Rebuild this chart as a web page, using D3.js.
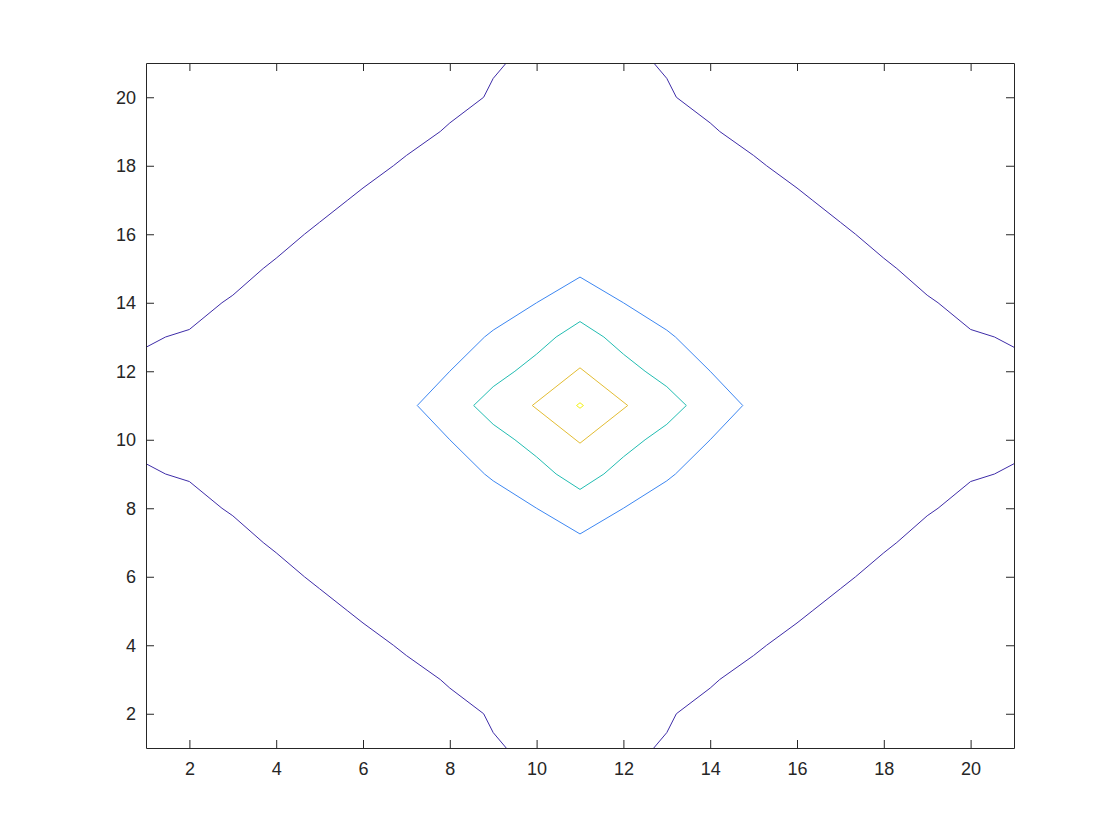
<!DOCTYPE html>
<html>
<head>
<meta charset="utf-8">
<script src="https://cdn.jsdelivr.net/npm/d3@7"></script>
<style>
  body { margin: 0; background: #fff; }
  svg { display: block; }
</style>
</head>
<body>
<svg id="chart" width="1120" height="840"></svg>
<script>
// tick values
var xTicks = [2, 4, 6, 8, 10, 12, 14, 16, 18, 20]
var yTicks = [2, 4, 6, 8, 10, 12, 14, 16, 18, 20]

// contour lines, [x, y] pairs
var level1UpperLeft = [[1,12.7],[1.45,13],[2,13.22],[2.75,14],[3,14.22],[3.7,15],[4,15.3],[4.65,16],[5,16.35],[5.65,17],[6,17.35],[6.7,18],[7,18.3],[7.78,19],[8,19.25],[8.78,20],[9,20.55],[9.3,21]]
var level1UpperRight = [[21,12.7],[20.55,13],[20,13.22],[19.25,14],[19,14.22],[18.3,15],[18,15.3],[17.35,16],[17,16.35],[16.35,17],[16,17.35],[15.3,18],[15,18.3],[14.22,19],[14,19.25],[13.22,20],[13,20.55],[12.7,21]]
var level1LowerLeft = [[1,9.3],[1.45,9],[2,8.78],[2.75,8],[3,7.78],[3.7,7],[4,6.7],[4.65,6],[5,5.65],[5.65,5],[6,4.65],[6.7,4],[7,3.7],[7.78,3],[8,2.75],[8.78,2],[9,1.45],[9.3,1]]
var level1LowerRight = [[21,9.3],[20.55,9],[20,8.78],[19.25,8],[19,7.78],[18.3,7],[18,6.7],[17.35,6],[17,5.65],[16.35,5],[16,4.65],[15.3,4],[15,3.7],[14.22,3],[14,2.75],[13.22,2],[13,1.45],[12.7,1]]
var level2 = [[14.75,11],[14,12],[13.2,13],[13,13.2],[12,14],[11,14.75],[10,14],[9,13.2],[8.8,13],[8,12],[7.25,11],[8,10],[8.8,9],[9,8.8],[10,8],[11,7.25],[12,8],[13,8.8],[13.2,9],[14,10]]
var level3 = [[13.45,11],[13,11.55],[12.5,12],[12,12.5],[11.55,13],[11,13.45],[10.45,13],[10,12.5],[9.5,12],[9,11.55],[8.55,11],[9,10.45],[9.5,10],[10,9.5],[10.45,9],[11,8.55],[11.55,9],[12,9.5],[12.5,10],[13,10.45]]
var level4 = [[12.1,11],[11,12.1],[9.9,11],[11,9.9]]
var level5 = [[11.08,11],[11,11.08],[10.92,11],[11,10.92]]

var svg = d3.select("#chart"),
    margin = {top: 63, right: 106, bottom: 92, left: 146},
    width = +svg.attr("width") - margin.left - margin.right,
    height = +svg.attr("height") - margin.top - margin.bottom,
    g = svg.append("g").attr("transform", "translate(" + margin.left + "," + margin.top + ")")

var x = d3.scaleLinear().domain([1, 21]).range([0, width])
var y = d3.scaleLinear().domain([1, 21]).range([height, 0])

var axisColor = "#262626"

// contours
var openLine = d3.line().x(function(d) { return x(d[0]) }).y(function(d) { return y(d[1]) })
var closedLine = d3.line().x(function(d) { return x(d[0]) }).y(function(d) { return y(d[1]) }).curve(d3.curveLinearClosed)

var contours = [
  {pts: level1UpperLeft, closed: false, color: "#3e2ca8"},
  {pts: level1UpperRight, closed: false, color: "#3e2ca8"},
  {pts: level1LowerLeft, closed: false, color: "#3e2ca8"},
  {pts: level1LowerRight, closed: false, color: "#3e2ca8"},
  {pts: level2, closed: true, color: "#3d87f2"},
  {pts: level3, closed: true, color: "#22bdb2"},
  {pts: level4, closed: true, color: "#e3bd33"},
  {pts: level5, closed: true, color: "#f3f212"}
]

g.selectAll(".contour")
  .data(contours)
  .enter().append("path")
    .attr("class", "contour")
    .attr("fill", "none")
    .attr("stroke", function(d) { return d.color })
    .attr("stroke-width", 1)
    .attr("stroke-linejoin", "round")
    .attr("d", function(d) { return d.closed ? closedLine(d.pts) : openLine(d.pts) })

// axes, ticks pointing in
var fontFam = "'Liberation Sans', Arial, Helvetica, sans-serif"

var bottomAxis = g.append("g")
  .attr("transform", "translate(0," + height + ")")
  .call(d3.axisBottom(x).tickValues(xTicks).tickSize(-8).tickSizeOuter(0).tickPadding(14))
var leftAxis = g.append("g")
  .call(d3.axisLeft(y).tickValues(yTicks).tickSize(-8).tickSizeOuter(0).tickPadding(10))
var topAxis = g.append("g")
  .call(d3.axisTop(x).tickValues(xTicks).tickSize(-8).tickSizeOuter(0).tickFormat(""))
var rightAxis = g.append("g")
  .attr("transform", "translate(" + width + ",0)")
  .call(d3.axisRight(y).tickValues(yTicks).tickSize(-8).tickSizeOuter(0).tickFormat(""))

g.selectAll(".domain, .tick line")
  .attr("stroke", axisColor)
  .attr("stroke-width", 1)
g.selectAll(".tick text")
  .attr("fill", axisColor)
  .attr("font-family", fontFam)
  .attr("font-size", "18px")
</script>
</body>
</html>
